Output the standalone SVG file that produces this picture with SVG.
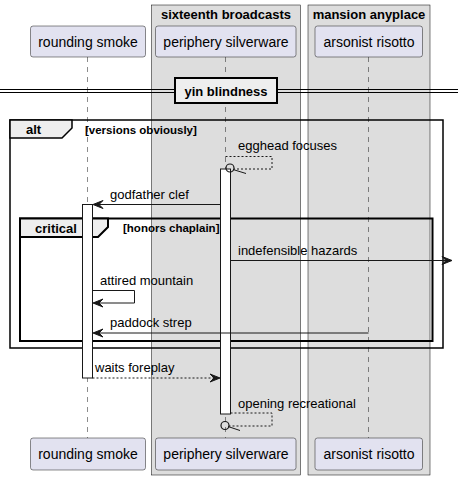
<svg xmlns="http://www.w3.org/2000/svg" width="458" height="480" viewBox="0 0 458 480">
<style>
text{font-family:"Liberation Sans",Arial,sans-serif;fill:#000}
.pt{font-size:14px}
.msg{font-size:13px}
.b{font-weight:bold;font-size:13px}
.g{font-weight:bold;font-size:11.5px}
.grp{fill:#DDDDDD;stroke:#000;stroke-width:0.5}
.part{fill:#E2E2F0;stroke:#181818;stroke-width:0.5}
.life{stroke:#181818;stroke-width:0.5;stroke-dasharray:5,5;fill:none}
.act{fill:#FFFFFF;stroke:#181818;stroke-width:1}
.ln{stroke:#181818;stroke-width:1;fill:none}
.dl{stroke:#181818;stroke-width:1;fill:none;stroke-dasharray:2,2}
.ah{fill:#181818;stroke:#181818;stroke-width:1}
.tab{fill:#EEEEEE;stroke:#000;stroke-width:1.5}
</style>
<g id="box-sixteenth">
<rect class="grp" x="151.5" y="5" width="149" height="470"/>
<text class="b" x="226" y="19" text-anchor="middle">sixteenth broadcasts</text>
</g>
<g id="box-mansion">
<rect class="grp" x="308" y="5" width="122" height="470"/>
<text class="b" x="369" y="19" text-anchor="middle">mansion anyplace</text>
</g>
<g id="lifelines">
<line class="life" x1="87.5" y1="57" x2="87.5" y2="438"/>
<line class="life" x1="225.5" y1="57" x2="225.5" y2="438"/>
<line class="life" x1="368.5" y1="57" x2="368.5" y2="438"/>
</g>
<g id="divider">
<line x1="0" y1="89.5" x2="458" y2="89.5" stroke="#000" stroke-width="1"/>
<line x1="0" y1="92.5" x2="458" y2="92.5" stroke="#000" stroke-width="1"/>
<rect x="175" y="78" width="102" height="25" fill="#EEEEEE" stroke="#000" stroke-width="2"/>
<text class="b" x="226" y="96" text-anchor="middle">yin blindness</text>
</g>
<g id="frame-alt">
<rect x="10" y="120" width="433" height="228" fill="none" stroke="#000" stroke-width="1.5"/>
<polygon class="tab" points="10,120 72,120 72,128 62,138 10,138"/>
<text class="b" x="26" y="134">alt</text>
<text class="g" x="85" y="134">[versions obviously]</text>
</g>
<g id="frame-critical">
<rect x="20" y="218.5" width="412.5" height="122.5" fill="none" stroke="#000" stroke-width="2"/>
<polygon class="tab" points="20,218.5 108,218.5 108,227 98,237 20,237" style="stroke-width:2"/>
<text class="b" x="35" y="233">critical</text>
<text class="g" x="123" y="232">[honors chaplain]</text>
</g>
<g id="activations">
<rect class="act" x="220.5" y="169" width="10" height="245"/>
<rect class="act" x="82.5" y="204.5" width="10" height="173.5"/>
</g>
<g id="connectors">
<g id="msg-egghead">
<polyline class="dl" points="225.5,156.5 272,156.5 272,169 234,169"/>
<circle cx="230" cy="168" r="4" fill="none" stroke="#181818" stroke-width="1.2"/>
<line class="ln" x1="233" y1="169.5" x2="246" y2="173.5"/>
<text class="msg" x="238" y="150">egghead focuses</text>
</g>
<g id="msg-godfather">
<line class="ln" x1="220.5" y1="204.5" x2="94" y2="204.5"/>
<polygon class="ah" points="93,204.5 103,200.5 99,204.5 103,208.5"/>
<text class="msg" x="110" y="199">godfather clef</text>
</g>
<g id="msg-indefensible">
<line class="ln" x1="230.5" y1="260.5" x2="451" y2="260.5"/>
<polygon class="ah" points="452,260.5 442,256.5 446,260.5 442,264.5"/>
<text class="msg" x="238" y="255">indefensible hazards</text>
</g>
<g id="msg-attired">
<polyline class="ln" points="92.5,290.5 134.5,290.5 134.5,303 94,303"/>
<polygon class="ah" points="93,303 103,299 99,303 103,307"/>
<text class="msg" x="100" y="285">attired mountain</text>
</g>
<g id="msg-paddock">
<line class="ln" x1="368.5" y1="333" x2="94" y2="333"/>
<polygon class="ah" points="93,333 103,329 99,333 103,337"/>
<text class="msg" x="110" y="327">paddock strep</text>
</g>
<g id="msg-waits">
<line class="dl" x1="92.5" y1="378" x2="219" y2="378"/>
<polygon class="ah" points="220,378 210,374 214,378 210,382"/>
<text class="msg" x="95" y="372">waits foreplay</text>
</g>
<g id="msg-opening">
<polyline class="dl" points="230.5,413 272,413 272,426 229,426"/>
<circle cx="225" cy="425.5" r="4" fill="none" stroke="#181818" stroke-width="1.2"/>
<line class="ln" x1="228" y1="426.5" x2="240" y2="430.5"/>
<text class="msg" x="238" y="408">opening recreational</text>
</g>
</g>
<g id="p-rounding-top"><rect class="part" x="30.5" y="26" width="115" height="31" rx="2.5"/><text class="pt" x="88" y="47" text-anchor="middle">rounding smoke</text></g>
<g id="p-periphery-top"><rect class="part" x="155.5" y="26" width="140.5" height="31" rx="2.5"/><text class="pt" x="226" y="47" text-anchor="middle">periphery silverware</text></g>
<g id="p-arsonist-top"><rect class="part" x="315" y="26" width="107.5" height="31" rx="2.5"/><text class="pt" x="369" y="47" text-anchor="middle">arsonist risotto</text></g>
<g id="p-rounding-bottom"><rect class="part" x="30.5" y="438" width="115" height="32" rx="2.5"/><text class="pt" x="88" y="459" text-anchor="middle">rounding smoke</text></g>
<g id="p-periphery-bottom"><rect class="part" x="155.5" y="438" width="140.5" height="32" rx="2.5"/><text class="pt" x="226" y="459" text-anchor="middle">periphery silverware</text></g>
<g id="p-arsonist-bottom"><rect class="part" x="315" y="438" width="107.5" height="32" rx="2.5"/><text class="pt" x="369" y="459" text-anchor="middle">arsonist risotto</text></g>
</svg>
